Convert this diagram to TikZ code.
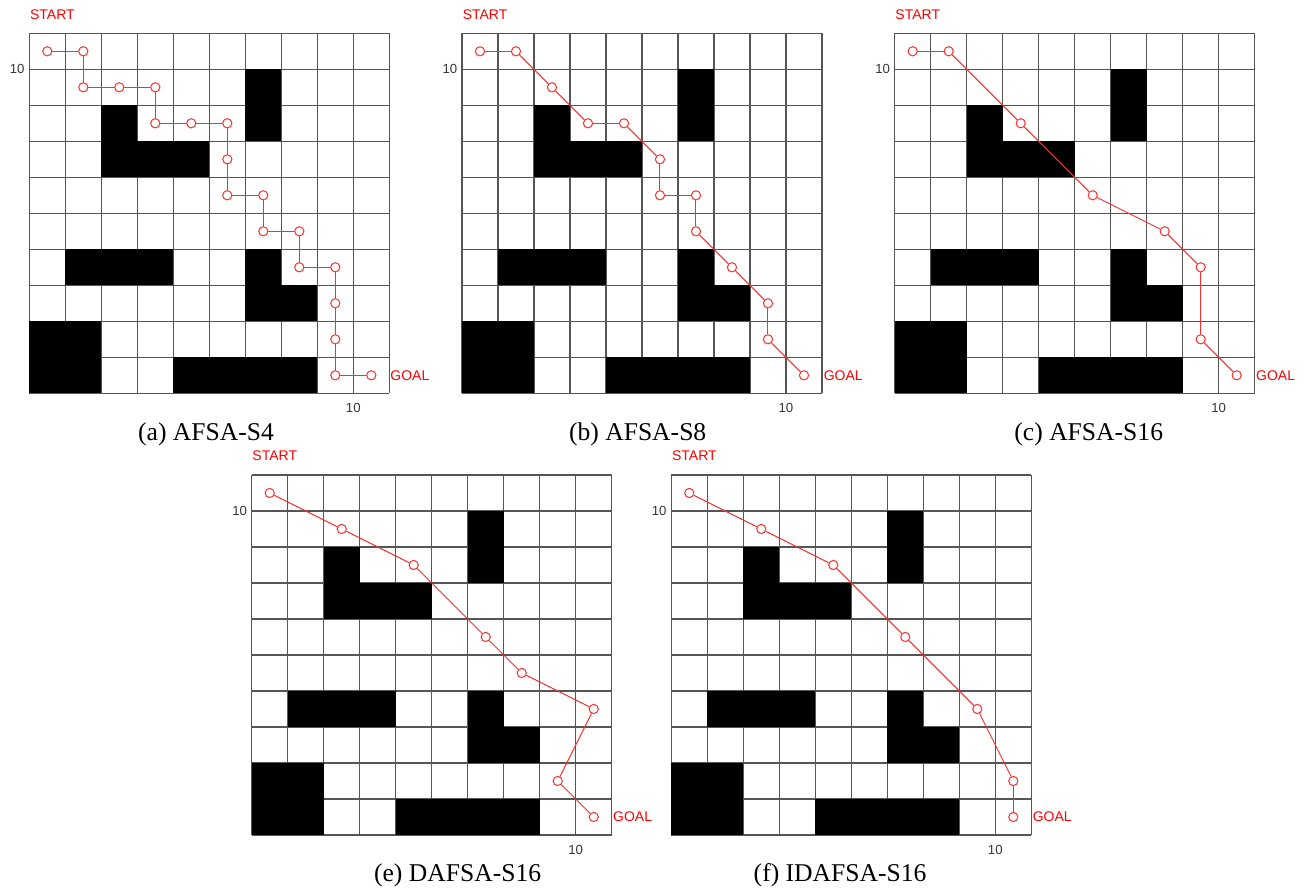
\documentclass[tikz,border=0pt]{standalone}
\usepackage{fontspec}
\setmainfont{Liberation Serif}
\setsansfont{Liberation Sans}
\usetikzlibrary{positioning}
\definecolor{pathred}{RGB}{255,45,45}
\definecolor{gridgray}{RGB}{85,85,85}
\definecolor{ticktext}{RGB}{55,55,55}

% grid and obstacle map, in cell units
\newcommand{\obstaclemap}{%
  \foreach \k in {0,...,10}{
    \draw[gridgray,line width=0.6pt] (\k,0) -- (\k,10);
    \draw[gridgray,line width=0.6pt] (0,\k) -- (10,\k);
  }
  \fill[black] (6,7) rectangle (7,9);
  \fill[black] (2,6) rectangle (5,7);
  \fill[black] (2,7) rectangle (3,8);
  \fill[black] (1,3) rectangle (4,4);
  \fill[black] (6,2) rectangle (7,4);
  \fill[black] (7,2) rectangle (8,3);
  \fill[black] (0,0) rectangle (2,2);
  \fill[black] (4,0) rectangle (8,1);
}
% labels round one grid: #1 prefix
\newcommand{\axislabels}[1]{%
  \node[ticklabel,anchor=east] (#1ytick) at (-0.12,9) {10};
  \node[ticklabel] (#1xtick) at (9,-0.42) {10};
  \node[endlabel,anchor=west] (#1start) at (0.01,10.53) {START};
}
% fish path: #1 prefix, #2 list of x/y
\newcommand{\fishpath}[2]{%
  \foreach \x/\y [count=\i, remember=\i as \last (initially 0)] in {#2}{
    \node[waypt] (#1\i) at (\x,\y) {};
    \ifnum\i>1 \draw[pathline] (#1\last) -- (#1\i);\fi
  }
}

\begin{document}
\begin{tikzpicture}[x=18pt,y=18pt,
    waypt/.style={circle,draw=pathred,line width=0.5pt,minimum size=4.6pt,inner sep=0pt},
    pathline/.style={pathred,line width=0.5pt},
    ticklabel/.style={text=ticktext,inner sep=0pt,font=\sffamily\fontsize{6.6}{7}\selectfont},
    endlabel/.style={text=red,inner sep=0pt,font=\sffamily\fontsize{7}{8}\selectfont},
    caption/.style={anchor=base,inner sep=0pt,font=\fontsize{12.8}{14}\selectfont}]
  \useasboundingbox (0,0) rectangle (36.278,24.75);

  % (a)
  \begin{scope}[shift={(0.814,13.825)}]
    \obstaclemap
    \axislabels{a}
    \fishpath{a}{0.5/9.5,1.5/9.5,1.5/8.5,2.5/8.5,3.5/8.5,3.5/7.5,4.5/7.5,5.5/7.5,5.5/6.5,5.5/5.5,
      6.5/5.5,6.5/4.5,7.5/4.5,7.5/3.5,8.5/3.5,8.5/2.5,8.5/1.5,8.5/0.5,9.5/0.5}
    \node[endlabel,anchor=west] (agoal) at (10.02,0.5) {GOAL};
    \node[caption] (acap) at (4.91,-1.31) {(a) AFSA-S4};
  \end{scope}

  % (b)
  \begin{scope}[shift={(12.833,13.825)}]
    \obstaclemap
    \axislabels{b}
    \fishpath{b}{0.5/9.5,1.5/9.5,2.5/8.5,3.5/7.5,4.5/7.5,5.5/6.5,5.5/5.5,6.5/5.5,6.5/4.5,
      7.5/3.5,8.5/2.5,8.5/1.5,9.5/0.5}
    \node[endlabel,anchor=west] (bgoal) at (10.04,0.5) {GOAL};
    \node[caption] (bcap) at (4.88,-1.31) {(b) AFSA-S8};
  \end{scope}

  % (c)
  \begin{scope}[shift={(24.853,13.825)}]
    \obstaclemap
    \axislabels{c}
    \fishpath{c}{0.5/9.5,1.5/9.5,3.5/7.5,5.5/5.5,7.5/4.5,8.5/3.5,8.5/1.5,9.5/0.5}
    \node[endlabel,anchor=west] (cgoal) at (10.03,0.5) {GOAL};
    \node[caption] (ccap) at (5.39,-1.31) {(c) AFSA-S16};
  \end{scope}

  % (e)
  \begin{scope}[shift={(6.992,1.556)}]
    \obstaclemap
    \axislabels{e}
    \fishpath{e}{0.5/9.5,2.5/8.5,4.5/7.5,6.5/5.5,7.5/4.5,9.5/3.5,8.5/1.5,9.5/0.5}
    \node[endlabel,anchor=west] (egoal) at (10.03,0.5) {GOAL};
    \node[caption] (ecap) at (5.72,-1.3) {(e) DAFSA-S16};
  \end{scope}

  % (f)
  \begin{scope}[shift={(18.647,1.556)}]
    \obstaclemap
    \axislabels{f}
    \fishpath{f}{0.5/9.5,2.5/8.5,4.5/7.5,6.5/5.5,8.5/3.5,9.5/1.5,9.5/0.5}
    \node[endlabel,anchor=west] (fgoal) at (10.03,0.5) {GOAL};
    \node[caption] (fcap) at (4.69,-1.3) {(f) IDAFSA-S16};
  \end{scope}
\end{tikzpicture}
\end{document}
